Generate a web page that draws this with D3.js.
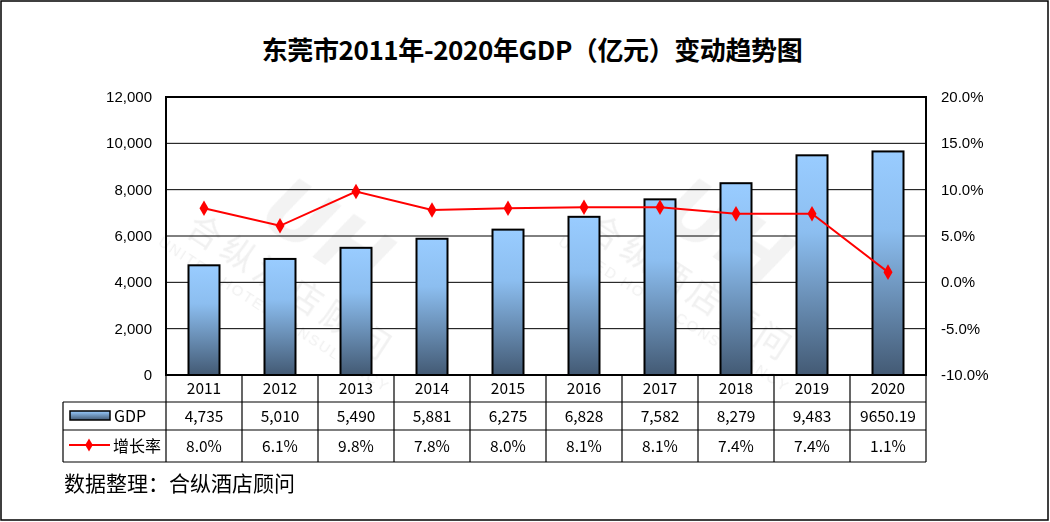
<!DOCTYPE html>
<html><head><meta charset="utf-8">
<script src="https://cdn.jsdelivr.net/npm/d3@7"></script>
<style>
html,body{margin:0;padding:0;background:#fff;}
svg{display:block;}
</style></head>
<body>
<svg id="chart" width="1050" height="522"></svg>
<script>
const years = ["2011","2012","2013","2014","2015","2016","2017","2018","2019","2020"];
const gdp = [4735, 5010, 5490, 5881, 6275, 6828, 7582, 8279, 9483, 9650.19];
const gdpLabels = ["4,735","5,010","5,490","5,881","6,275","6,828","7,582","8,279","9,483","9650.19"];
const rate = [8.0, 6.1, 9.8, 7.8, 8.0, 8.1, 8.1, 7.4, 7.4, 1.1];
const leftTicks = [0, 2000, 4000, 6000, 8000, 10000, 12000];
const rightTicks = [-10, -5, 0, 5, 10, 15, 20];
const title = "东莞市2011年-2020年GDP（亿元）变动趋势图";
const source = "数据整理：合纵酒店顾问";

const svg = d3.select("#chart");
const W = 1050, H = 522;
const L = 166, R = 926, T = 97, B = 375;
const tableLeft = 63;
const rowY = [375, 402, 430, 462];

svg.append("rect").attr("x",1).attr("y",1).attr("width",W-3).attr("height",H-3)
  .attr("fill","#fff").attr("stroke","#000").attr("stroke-width",1.5);

const defs = svg.append("defs");
const grad = defs.append("linearGradient").attr("id","barGrad").attr("x1",0).attr("y1",0).attr("x2",0).attr("y2",1);
grad.append("stop").attr("offset","0%").attr("stop-color","#99ccff");
grad.append("stop").attr("offset","35%").attr("stop-color","#8cbef0");
grad.append("stop").attr("offset","100%").attr("stop-color","#435a74");
const gradH = defs.append("linearGradient").attr("id","legGrad").attr("x1",0).attr("y1",0).attr("x2",0).attr("y2",1);
gradH.append("stop").attr("offset","0%").attr("stop-color","#99ccff");
gradH.append("stop").attr("offset","100%").attr("stop-color","#435a74");

// title
svg.append("text").attr("x",532).attr("y",60).attr("text-anchor","middle")
  .attr("font-family","'Noto Sans CJK SC', sans-serif").attr("font-weight","bold")
  .attr("font-size",26).attr("letter-spacing",-0.4).attr("fill","#000").text(title);

const x = d3.scaleBand().domain(years).range([L, R]).paddingInner(0).paddingOuter(0);
const y = d3.scaleLinear().domain([0, 12000]).range([B, T]);
const y2 = d3.scaleLinear().domain([-10, 20]).range([B, T]);

// watermark
const wm = svg.append("g").attr("opacity",0.5);
[[290,290],[690,290]].forEach(([cx,cy])=>{
  const g = wm.append("g").attr("transform",`translate(${cx},${cy}) rotate(33)`);
  g.append("text").attr("x",0).attr("y",-40).attr("text-anchor","middle")
   .attr("font-family","'DejaVu Sans', sans-serif").attr("font-weight","bold").attr("font-style","italic")
   .attr("font-size",80).attr("fill","#e6e6e6").text("UH");
  g.append("text").attr("x",0).attr("y",10).attr("text-anchor","middle")
   .attr("font-family","'Noto Sans CJK SC', sans-serif").attr("font-size",34).attr("letter-spacing",6)
   .attr("fill","#e2e2e2").text("合纵酒店顾问");
  g.append("text").attr("x",0).attr("y",34).attr("text-anchor","middle")
   .attr("font-family","'Liberation Sans', sans-serif").attr("font-size",15).attr("letter-spacing",2)
   .attr("fill","#e2e2e2").text("UNITED HOTEL CONSULTANCY");
});

// gridlines
svg.append("g").selectAll("line").data(leftTicks.filter(d=>d>0)).join("line")
  .attr("x1",L).attr("x2",R).attr("y1",d=>y(d)).attr("y2",d=>y(d))
  .attr("stroke","#000").attr("stroke-width",1);

// left axis labels
svg.append("g").selectAll("text").data(leftTicks).join("text")
  .attr("x",152).attr("y",d=>y(d)+5).attr("text-anchor","end")
  .attr("font-family","'Liberation Sans', Arial, sans-serif").attr("font-size",15).attr("fill","#000")
  .text(d=>d3.format(",")(d));
// right axis labels
svg.append("g").selectAll("text").data(rightTicks).join("text")
  .attr("x",941).attr("y",d=>y2(d)+5).attr("text-anchor","start")
  .attr("font-family","'Liberation Sans', Arial, sans-serif").attr("font-size",15).attr("fill","#000")
  .text(d=>d.toFixed(1)+"%");

// bars
const bw = 31;
svg.append("g").selectAll("rect").data(gdp).join("rect")
  .attr("x",(d,i)=>x(years[i])+x.bandwidth()/2-bw/2)
  .attr("y",d=>y(d)).attr("width",bw).attr("height",d=>B-y(d))
  .attr("fill","url(#barGrad)").attr("stroke","#000").attr("stroke-width",2);

// plot border
svg.append("rect").attr("x",L).attr("y",T).attr("width",R-L).attr("height",B-T)
  .attr("fill","none").attr("stroke","#000").attr("stroke-width",2);

// line
const cx = (i)=>x(years[i])+x.bandwidth()/2;
svg.append("path").datum(rate)
  .attr("d", d3.line().x((d,i)=>cx(i)).y(d=>y2(d)))
  .attr("fill","none").attr("stroke","#ff0000").attr("stroke-width",2);
svg.append("g").selectAll("path").data(rate).join("path")
  .attr("transform",(d,i)=>`translate(${cx(i)},${y2(d)})`)
  .attr("d", d3.symbol().type(d3.symbolDiamond).size(70))
  .attr("fill","#ff0000");

// table
const tbl = svg.append("g").attr("stroke","#000").attr("stroke-width",1.2);
tbl.append("line").attr("x1",tableLeft).attr("x2",R).attr("y1",rowY[1]).attr("y2",rowY[1]);
tbl.append("line").attr("x1",tableLeft).attr("x2",R).attr("y1",rowY[2]).attr("y2",rowY[2]);
tbl.append("line").attr("x1",tableLeft).attr("x2",R).attr("y1",rowY[3]).attr("y2",rowY[3]);
const bounds = years.map(yr=>x(yr)).concat([R]);
tbl.selectAll("line.v").data(bounds).join("line").attr("class","v")
  .attr("x1",d=>d).attr("x2",d=>d).attr("y1",rowY[0]).attr("y2",rowY[3]);
tbl.append("line").attr("x1",tableLeft).attr("x2",tableLeft).attr("y1",rowY[1]).attr("y2",rowY[3]);

const tf = "'Noto Sans CJK SC', 'Microsoft YaHei', sans-serif";
const mkRow = (arr, yc) => svg.append("g").selectAll("text").data(arr).join("text")
  .attr("x",(d,i)=>cx(i)).attr("y",yc).attr("text-anchor","middle")
  .attr("font-family",tf).attr("font-size",15.5).attr("fill","#000").text(d=>d);
mkRow(years, 394);
mkRow(gdpLabels, 422);
mkRow(rate.map(r=>r.toFixed(1)+"%"), 452);

// legend keys
svg.append("rect").attr("x",70).attr("y",411).attr("width",40).attr("height",9)
  .attr("fill","url(#legGrad)").attr("stroke","#000").attr("stroke-width",1.5);
svg.append("text").attr("x",114).attr("y",422).attr("font-family",tf).attr("font-size",16).text("GDP");
svg.append("line").attr("x1",69).attr("x2",110).attr("y1",445).attr("y2",445)
  .attr("stroke","#ff0000").attr("stroke-width",2);
svg.append("path").attr("transform","translate(89,445)")
  .attr("d", d3.symbol().type(d3.symbolDiamond).size(50)).attr("fill","#ff0000");
svg.append("text").attr("x",113).attr("y",452).attr("font-family",tf).attr("font-size",16).text("增长率");

// source
svg.append("text").attr("x",64).attr("y",491).attr("font-family",tf).attr("font-size",21).attr("fill","#000").text(source);
</script>
</body></html>
